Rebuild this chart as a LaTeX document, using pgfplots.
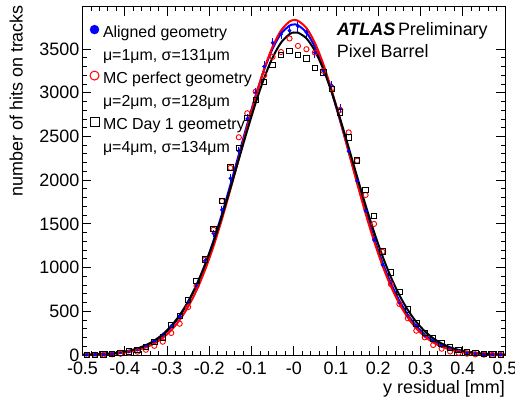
\documentclass[border=0pt]{standalone}
\usepackage{pgfplots}
\pgfplotsset{compat=1.18}
\usepackage{pgfplotstable}
\usepackage{fontspec}
\setmainfont{Liberation Sans}

\pgfplotstableread{
x blue berr red black
-0.49 3 2 0 2
-0.47 5 2 2 4
-0.45 9 3 5 8
-0.43 20 4 8 14
-0.41 35 6 14 25
-0.39 40 6 22 40
-0.37 62 8 38 58
-0.35 100 10 60 95
-0.33 160 13 105 150
-0.31 230 15 152 200
-0.29 330 18 252 345
-0.27 440 21 358 445
-0.25 600 24 548 629
-0.23 800 28 790 850
-0.21 1080 33 1090 1095
-0.19 1390 37 1432 1440
-0.17 1660 41 1760 1765
-0.15 2020 45 2140 2143
-0.13 2330 48 2490 2365
-0.11 2700 52 2765 2708
-0.09 3000 55 3013 2918
-0.07 3300 57 3200 3124
-0.05 3570 60 3410 3320
-0.03 3670 61 3465 3430
-0.01 3710 61 3620 3478
0.01 3760 61 3535 3432
0.03 3690 61 3497 3392
0.05 3460 59 3459 3285
0.07 3250 57 3250 3230
0.09 3080 55 3050 3040
0.11 2820 53 2803 2772
0.13 2330 48 2546 2488
0.15 1990 45 2223 2223
0.17 1650 41 1830 1885
0.19 1316 36 1499 1590
0.21 1030 32 1180 1182
0.23 830 29 810 942
0.25 600 24 583 724
0.27 450 21 420 523
0.29 330 18 278 360
0.31 225 15 202 250
0.33 160 13 114 191
0.35 105 10 72 130
0.37 70 8 40 85
0.39 45 7 25 55
0.41 28 5 15 35
0.43 16 4 8 22
0.45 10 3 4 13
0.47 6 2 2 8
0.49 4 2 1 5
}\pointtable

\pgfplotstableread{
x bfit rfit kfit
-0.50 2.5 1.8 3.1
-0.49 3.4 2.4 4.1
-0.47 5.9 4.3 7.1
-0.45 10.1 7.5 11.9
-0.43 16.9 12.9 19.5
-0.41 27.5 21.6 31.2
-0.39 44.0 35.2 48.9
-0.37 68.5 56.1 75.1
-0.35 104.4 87.3 112.6
-0.33 155.3 132.5 165.2
-0.31 225.7 196.3 237.0
-0.29 320.6 283.9 332.4
-0.27 444.8 400.5 456.1
-0.25 603.0 551.5 612.1
-0.23 798.5 741.0 803.3
-0.21 1033.1 971.7 1030.9
-0.19 1305.8 1243.4 1293.8
-0.17 1612.5 1552.8 1588.1
-0.15 1945.3 1892.3 1906.4
-0.13 2292.7 2250.4 2238.1
-0.11 2640.0 2611.8 2569.6
-0.09 2969.7 2958.1 2885.2
-0.07 3263.7 3269.6 3168.2
-0.05 3504.1 3526.6 3402.2
-0.03 3675.6 3712.2 3573.1
-0.01 3766.7 3813.2 3669.9
0.00 3779.9 3829.5 3688.4
0.01 3771.1 3822.5 3686.3
0.03 3688.5 3739.5 3621.2
0.05 3524.6 3569.9 3478.9
0.07 3290.4 3325.9 3268.5
0.09 3001.0 3023.9 3003.3
0.11 2674.0 2682.9 2698.6
0.13 2327.7 2323.0 2371.6
0.15 1979.6 1962.9 2038.2
0.17 1644.8 1618.6 1713.1
0.19 1335.0 1302.5 1408.1
0.21 1058.7 1022.8 1132.0
0.23 820.2 783.8 889.9
0.25 620.8 586.2 684.2
0.27 459.1 427.8 514.5
0.29 331.6 304.7 378.3
0.31 234.1 211.8 272.1
0.33 161.4 143.7 191.3
0.35 108.7 95.1 131.6
0.37 71.5 61.4 88.5
0.39 46.0 38.7 58.2
0.41 28.9 23.8 37.5
0.43 17.7 14.3 23.6
0.45 10.6 8.4 14.5
0.47 6.2 4.8 8.7
0.49 3.6 2.7 5.1
0.50 2.7 2.0 3.9
}\fittable

\begin{document}
\fontsize{18}{21}\selectfont
\begin{tikzpicture}
\useasboundingbox (-82.5bp,-51bp) rectangle (432.5bp,355bp);
\begin{axis}[
  at={(0,0)}, anchor=south west,
  scale only axis, width=422.5bp, height=348bp,
  xmin=-0.5, xmax=0.5, ymin=0, ymax=3980,
  xtick={-0.5,-0.4,-0.3,-0.2,-0.1,0,0.1,0.2,0.3,0.4,0.5},
  xticklabels={-0.5,-0.4,-0.3,-0.2,-0.1,-0,0.1,0.2,0.3,0.4,0.5},
  ytick={0,500,1000,1500,2000,2500,3000,3500},
  minor x tick num=4, minor y tick num=4,
  tick align=inside,
  major tick length=9bp, minor tick length=4.5bp,
  every tick/.style={black, line width=0.8bp},
  axis line style={line width=1bp},
  xticklabel style={anchor=north, inner sep=0pt, yshift=-6.5bp},
  yticklabel style={anchor=east, inner sep=0pt, xshift=-3bp},
  /pgf/number format/assume math mode=true,
  /pgf/number format/1000 sep={},
  scaled y ticks=false,
  xlabel={y residual [mm]},
  xlabel style={at={(rel axis cs:1,-0.110)}, anchor=base east, inner sep=0pt},
  ylabel={number of hits on tracks},
  ylabel style={at={(rel axis cs:-0.1415,1.006)}, anchor=base east, inner sep=0pt},
  clip=false,
  legend image code/.code={\draw[#1] plot coordinates {(0bp,3.5bp)};},
  legend cell align=left,
  legend style={at={(0.0178,0.948)}, anchor=north west, draw=none, fill=none,
    inner sep=0pt, outer sep=0pt, row sep=7bp, column sep=4bp,
    font=\fontsize{16}{19}\selectfont,
    nodes={inner sep=0pt, text height=12bp, text depth=4bp}},
]
% blue
\addplot[forget plot, only marks, blue, mark=*, mark size=1.7bp,
  error bars/.cd, y dir=both, y explicit, error mark=none,
  error bar style={blue, line width=1bp}]
  table[x=x, y=blue, y error=berr] {\pointtable};
\addplot[forget plot, blue, line width=2bp, smooth] table[x=x, y=bfit] {\fittable};
% red
\addplot[forget plot, only marks, red, mark=o, mark size=2.6bp, line width=0.9bp]
  table[x=x, y=red] {\pointtable};
\addplot[forget plot, red, line width=2bp, smooth] table[x=x, y=rfit] {\fittable};
% black
\addplot[forget plot, only marks, black, mark=square, mark size=2.7bp, line width=0.9bp]
  table[x=x, y=black] {\pointtable};
\addplot[forget plot, black, line width=2bp, smooth] table[x=x, y=kfit] {\fittable};

\addlegendimage{only marks, blue, mark=*, mark size=4.5bp}
\addlegendentry{Aligned geometry}
\addlegendimage{empty legend}
\addlegendentry{μ=1μm, σ=131μm}
\addlegendimage{only marks, red, mark=o, mark size=4.5bp, line width=1bp}
\addlegendentry{MC perfect geometry}
\addlegendimage{empty legend}
\addlegendentry{μ=2μm, σ=128μm}
\addlegendimage{only marks, black, mark=square, mark size=4.5bp, line width=1bp}
\addlegendentry{MC Day 1 geometry}
\addlegendimage{empty legend}
\addlegendentry{μ=4μm, σ=134μm}

\node[anchor=base west, inner sep=0pt] at (rel axis cs:0.6016,0.9195) {\textbf{\textit{ATLAS}}\hspace{0.15em}Preliminary};
\node[anchor=base west, inner sep=0pt] at (rel axis cs:0.6016,0.8563) {Pixel Barrel};
\end{axis}
\end{tikzpicture}
\end{document}
